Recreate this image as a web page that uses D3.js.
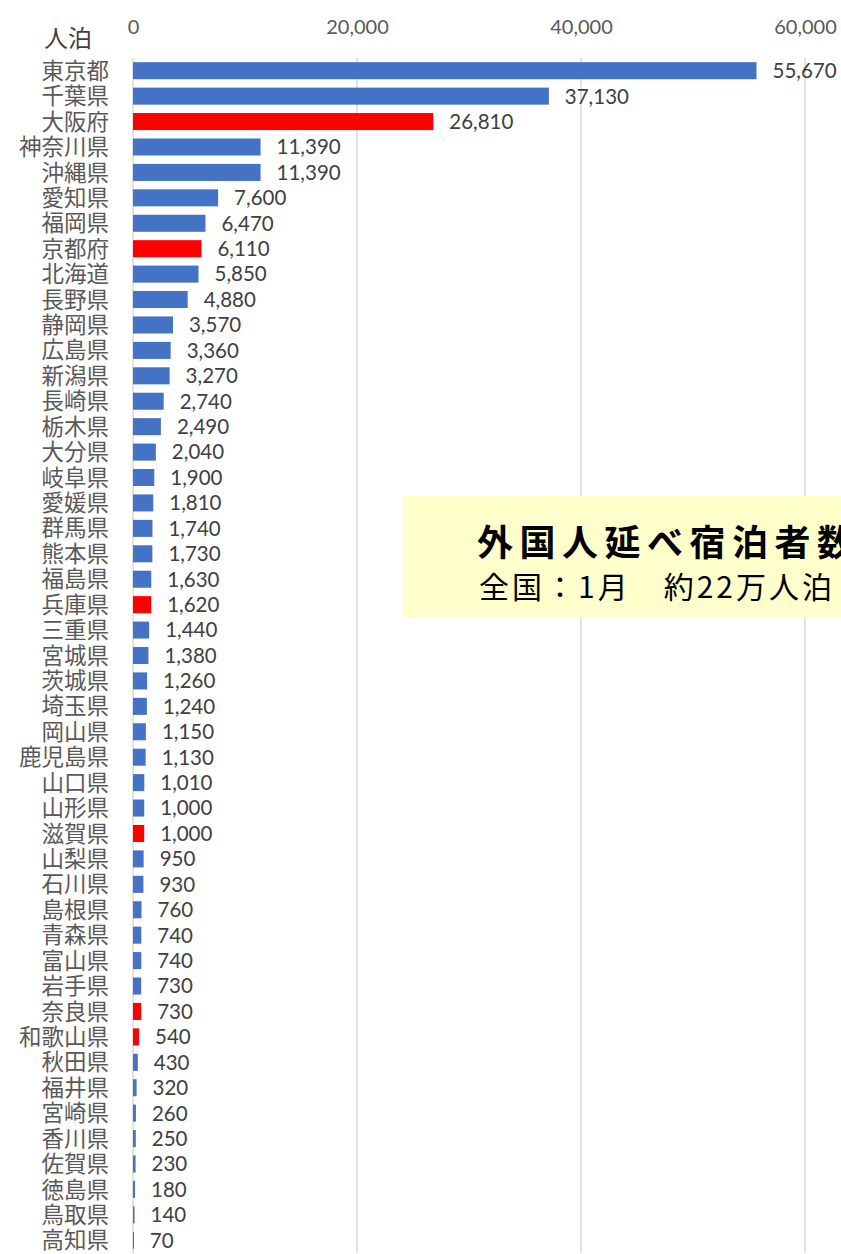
<!DOCTYPE html>
<html>
<head>
<meta charset="utf-8">
<script src="https://cdn.jsdelivr.net/npm/d3@7"></script>
<style>
  body { margin: 0; background: #fff; overflow: hidden; }
</style>
</head>
<body>
<div id="chart"></div>
<script>
// data
const prefectures = ["東京都","千葉県","大阪府","神奈川県","沖縄県","愛知県","福岡県","京都府","北海道","長野県",
  "静岡県","広島県","新潟県","長崎県","栃木県","大分県","岐阜県","愛媛県","群馬県","熊本県",
  "福島県","兵庫県","三重県","宮城県","茨城県","埼玉県","岡山県","鹿児島県","山口県","山形県",
  "滋賀県","山梨県","石川県","島根県","青森県","富山県","岩手県","奈良県","和歌山県","秋田県",
  "福井県","宮崎県","香川県","佐賀県","徳島県","鳥取県","高知県"];
const stays = [55670,37130,26810,11390,11390,7600,6470,6110,5850,4880,
  3570,3360,3270,2740,2490,2040,1900,1810,1740,1730,
  1630,1620,1440,1380,1260,1240,1150,1130,1010,1000,
  1000,950,930,760,740,740,730,730,540,430,
  320,260,250,230,180,140,70];
const kansai = ["大阪府","京都府","兵庫県","滋賀県","奈良県","和歌山県"];
const xTicks = [0, 20000, 40000, 60000];
const unitLabel = "人泊";
const noteTitle = "外国人延べ宿泊者数";
const noteSub = "全国\uff1a1月\u3000約22万人泊";

function drawChart() {
  const width = 841, height = 1254;
  const margin = ({top: 58, right: 36, bottom: 1, left: 133});
  const visHeight = height - margin.top - margin.bottom;

  const data = prefectures.map((p, i) => ({name: p, value: stays[i]}));

  const x = d3.scaleLinear().domain([0, 60000]).range([0, 672]);
  const y = d3.scaleBand().domain(prefectures).range([0, visHeight]).paddingInner(0.33).paddingOuter(0.165);

  const svg = d3.select("#chart").append("svg")
      .attr("width", width)
      .attr("height", height);

  const g = svg.append("g")
      .attr("transform", `translate(${margin.left}, ${margin.top})`);

  // top axis labels
  const xAxis = g.append("g")
      .call(d3.axisTop(x).tickValues(xTicks).tickFormat(d3.format(",")).tickSize(0))
      .call(g => g.select(".domain").remove());
  xAxis.selectAll(".tick text")
      .attr("y", -24)
      .attr("fill", "#595959")
      .style("font-family", "Lato, 'Liberation Sans', sans-serif")
      .style("font-size", "20px");

  // grid lines
  g.append("g").selectAll("line")
    .data(xTicks)
    .join("line")
      .attr("x1", d => x(d)).attr("x2", d => x(d))
      .attr("y1", 0).attr("y2", visHeight)
      .attr("stroke", "#d9d9d9")
      .attr("stroke-width", 1.5);

  // unit label
  svg.append("text")
      .attr("x", 68).attr("y", 47)
      .attr("text-anchor", "middle")
      .attr("fill", "#404040")
      .style("font-family", "'Noto Sans CJK JP', sans-serif")
      .style("font-size", "24px")
      .text(unitLabel);

  // category labels
  g.append("g").selectAll("text")
    .data(data)
    .join("text")
      .attr("x", -24)
      .attr("y", d => y(d.name) + y.bandwidth() / 2)
      .attr("dy", "0.36em")
      .attr("text-anchor", "end")
      .attr("fill", "#595959")
      .style("font-family", "'Noto Sans CJK JP', sans-serif")
      .style("font-size", "22.5px")
      .text(d => d.name);

  // bars
  g.append("g").selectAll("rect")
    .data(data)
    .join("rect")
      .attr("x", x(0))
      .attr("y", d => y(d.name))
      .attr("width", d => Math.max(1, x(d.value) - x(0)))
      .attr("height", y.bandwidth())
      .attr("fill", d => kansai.includes(d.name) ? "#ff0000" : "#4472c4");

  // value labels
  g.append("g").selectAll("text")
    .data(data)
    .join("text")
      .attr("x", d => x(d.value) + 16)
      .attr("y", d => y(d.name) + y.bandwidth() / 2)
      .attr("dy", "0.36em")
      .attr("fill", "#404040")
      .style("font-family", "Lato, 'Liberation Sans', sans-serif")
      .style("font-size", "20.5px")
      .text(d => d3.format(",")(d.value));

  // annotation box
  const note = svg.append("g");
  note.append("rect")
      .attr("x", 403).attr("y", 496)
      .attr("width", 460).attr("height", 121)
      .attr("fill", "#ffffcc");
  note.append("text")
      .attr("x", 477).attr("y", 556)
      .attr("fill", "#000")
      .style("font-family", "'Noto Sans CJK JP', sans-serif")
      .style("font-size", "36px")
      .style("letter-spacing", "6.5px")
      .style("font-weight", "bold")
      .text(noteTitle);
  note.append("text")
      .attr("x", 479).attr("y", 598)
      .attr("fill", "#000")
      .style("font-family", "'Noto Sans CJK JP', sans-serif")
      .style("font-size", "30px")
      .style("letter-spacing", "3px")
      .text(noteSub);
}

window.onload = drawChart;
</script>
</body>
</html>
